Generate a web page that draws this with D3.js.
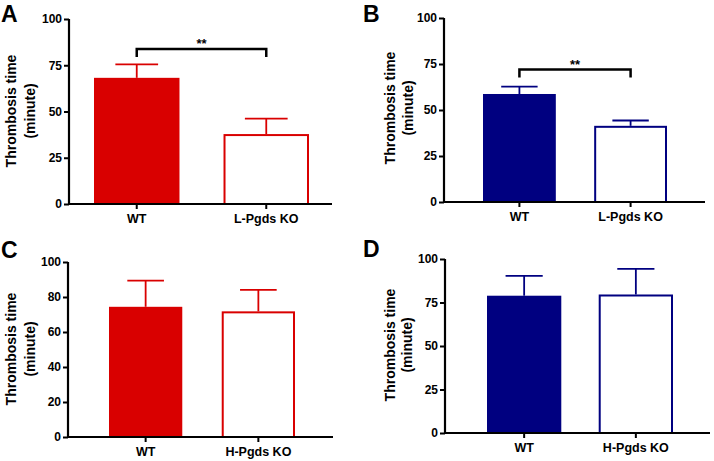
<!DOCTYPE html>
<html>
<head>
<meta charset="utf-8">
<script src="https://cdn.jsdelivr.net/npm/d3@7"></script>
<style>
html,body{margin:0;padding:0;background:#fff;}
svg{display:block;font-family:"Liberation Sans",Arial,sans-serif;font-weight:bold;}
</style>
</head>
<body>
<svg id="chart" width="714" height="461"></svg>
<script>
// ---- data ----
const panelLetters = ["A", "B", "C", "D"];
const categoriesA = ["WT", "L-Pgds KO"];
const categoriesB = ["WT", "L-Pgds KO"];
const categoriesC = ["WT", "H-Pgds KO"];
const categoriesD = ["WT", "H-Pgds KO"];
const meansA = [68.2, 37.8];
const errorsA = [7.3, 8.3];
const meansB = [58.7, 41.4];
const errorsB = [4.0, 2.9];
const meansC = [74.4, 71.8];
const errorsC = [15.0, 12.3];
const meansD = [78.9, 79.6];
const errorsD = [11.4, 14.7];
const ticksA = [0, 25, 50, 75, 100];
const ticksB = [0, 25, 50, 75, 100];
const ticksC = [0, 20, 40, 60, 80, 100];
const ticksD = [0, 25, 50, 75, 100];
const sigLabelA = "**";
const sigLabelB = "**";
const sigLevelA = 83.8;
const sigLevelB = 72;
const yTitleLines = ["Thrombosis time", "(minute)"];

const RED = "#d90000", NAVY = "#000080";

const panels = [
  {letter: panelLetters[0], cats: categoriesA, means: meansA, errs: errorsA, ticks: ticksA, color: RED,
   left: 69, top: 19, bottom: 204, xEnd: 332, band: [94, 309], pi: 0.34,
   titleX: [11, 30], titleY: 111, letterPos: [1, 22], sig: sigLabelA, sigLevel: sigLevelA},
  {letter: panelLetters[1], cats: categoriesB, means: meansB, errs: errorsB, ticks: ticksB, color: NAVY,
   left: 444, top: 18, bottom: 202, xEnd: 705, band: [483, 667], pi: 0.345,
   titleX: [390, 408], titleY: 108, letterPos: [363, 22], sig: sigLabelB, sigLevel: sigLevelB},
  {letter: panelLetters[2], cats: categoriesC, means: meansC, errs: errorsC, ticks: ticksC, color: RED,
   left: 68, top: 262, bottom: 437, xEnd: 333, band: [109, 295], pi: 0.35,
   titleX: [11, 30], titleY: 349, letterPos: [1, 258], sig: null},
  {letter: panelLetters[3], cats: categoriesD, means: meansD, errs: errorsD, ticks: ticksD, color: NAVY,
   left: 445, top: 259, bottom: 433, xEnd: 710, band: [487, 673], pi: 0.335,
   titleX: [390, 407], titleY: 345, letterPos: [363, 257], sig: null}
];

const svg = d3.select("#chart");

panels.forEach(p => {
  const g = svg.append("g");
  const y = d3.scaleLinear().domain([0, 100]).range([p.bottom, p.top]);
  const x = d3.scaleBand().domain(p.cats).range(p.band).paddingInner(p.pi).paddingOuter(0);

  // bars
  g.selectAll("rect.bar").data(p.cats).join("rect")
    .attr("class", "bar")
    .attr("x", (d, i) => x(d) + (i === 0 ? 0 : 1))
    .attr("y", (d, i) => y(p.means[i]) + (i === 0 ? 0 : 1))
    .attr("width", (d, i) => x.bandwidth() - (i === 0 ? 0 : 2))
    .attr("height", (d, i) => y(0) - y(p.means[i]) - (i === 0 ? 0 : 1))
    .attr("fill", (d, i) => i === 0 ? p.color : "#fff")
    .attr("stroke", (d, i) => i === 0 ? "none" : p.color)
    .attr("stroke-width", 2);

  // error bars (upper only)
  const capHalf = x.bandwidth() / 4;
  p.cats.forEach((c, i) => {
    const cx = x(c) + x.bandwidth() / 2;
    g.append("line")
      .attr("x1", cx).attr("x2", cx)
      .attr("y1", y(p.means[i])).attr("y2", y(p.means[i] + p.errs[i]))
      .attr("stroke", p.color).attr("stroke-width", 1.8);
    g.append("line")
      .attr("x1", cx - capHalf).attr("x2", cx + capHalf)
      .attr("y1", y(p.means[i] + p.errs[i])).attr("y2", y(p.means[i] + p.errs[i]))
      .attr("stroke", p.color).attr("stroke-width", 1.8);
  });

  // y axis
  const yAxis = d3.axisLeft(y).tickValues(p.ticks).tickSize(5).tickSizeOuter(0).tickPadding(2);
  const ya = g.append("g").attr("transform", `translate(${p.left},0)`).call(yAxis);
  ya.select(".domain").attr("stroke", "#000").attr("stroke-width", 2.2)
    .attr("d", `M0,${p.top}V${p.bottom + 1}`);
  ya.selectAll(".tick line").attr("stroke", "#000").attr("stroke-width", 2);
  ya.selectAll(".tick text").attr("font-size", 12).attr("font-weight", "bold")
    .attr("font-family", "Liberation Sans, Arial, sans-serif").attr("fill", "#000");

  // x axis
  const xAxis = d3.axisBottom(x).tickSize(5).tickSizeOuter(0).tickPadding(5);
  const xa = g.append("g").attr("transform", `translate(0,${p.bottom})`).call(xAxis);
  xa.select(".domain").attr("stroke", "#000").attr("stroke-width", 2.2)
    .attr("d", `M${p.left - 1},0H${p.xEnd}`);
  xa.selectAll(".tick line").attr("stroke", "#000").attr("stroke-width", 2);
  xa.selectAll(".tick text").attr("font-size", 12.5).attr("font-weight", "bold")
    .attr("font-family", "Liberation Sans, Arial, sans-serif").attr("fill", "#000");

  // y title
  yTitleLines.forEach((t, k) => {
    g.append("text")
      .attr("transform", `translate(${p.titleX[k]},${p.titleY}) rotate(-90)`)
      .attr("text-anchor", "middle").attr("dominant-baseline", "central")
      .attr("font-size", 14).attr("fill", "#000").text(t);
  });

  // panel letter
  g.append("text").attr("x", p.letterPos[0]).attr("y", p.letterPos[1])
    .attr("font-size", 23).attr("fill", "#000").text(p.letter);

  // significance bracket
  if (p.sig) {
    const x1 = x(p.cats[0]) + x.bandwidth() / 2;
    const x2 = x(p.cats[1]) + x.bandwidth() / 2;
    const yl = y(p.sigLevel);
    g.append("path")
      .attr("d", `M${x1},${yl + 8}V${yl}H${x2}V${yl + 8}`)
      .attr("fill", "none").attr("stroke", "#000").attr("stroke-width", 2.5);
    g.append("text").attr("x", (x1 + x2) / 2).attr("y", yl - 1)
      .attr("text-anchor", "middle").attr("font-size", 13).attr("fill", "#000").text(p.sig);
  }
});
</script>
</body>
</html>
